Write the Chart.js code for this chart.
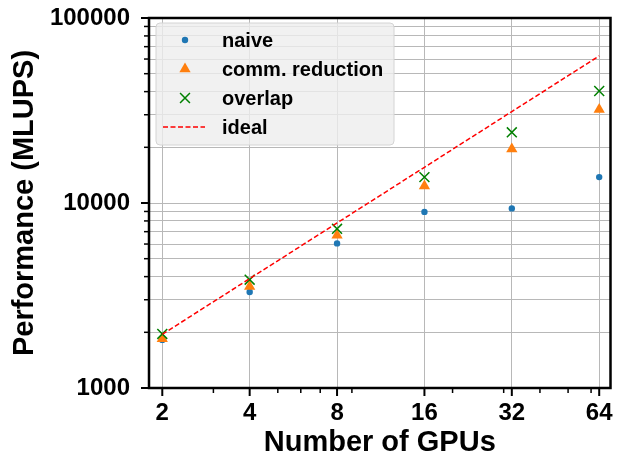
<!DOCTYPE html>
<html lang="en">
<head>
<meta charset="UTF-8">
<title>Performance vs Number of GPUs</title>
<script src="https://cdn.jsdelivr.net/npm/chart.js"></script>
<style>
  html, body { margin: 0; padding: 0; background: #fff; }
</style>
</head>
<body>
<canvas id="perfChart" width="619" height="455"></canvas>
<script>
// data (MLUPS)
const gpus = [2, 4, 8, 16, 32, 64];
const naive = [1820, 3300, 6050, 8950, 9350, 13800];
const commReduction = [1846, 3540, 6700, 12370, 19600, 32000];
const overlap = [1960, 3850, 7250, 13800, 24100, 40300];
const ideal = [1950, 3900, 7800, 15600, 31200, 62400];

const xMinorTicks = [3, 5, 6, 7, 9, 20, 30, 40, 50, 60];
const yMajorTicks = [1000, 10000, 100000];
const yMinorTicks = [2000, 3000, 4000, 5000, 6000, 7000, 8000, 9000,
                     20000, 30000, 40000, 50000, 60000, 70000, 80000, 90000];

const FONT = "'Liberation Sans', Arial, sans-serif";
const GRID = '#b8b8b8';

function pts(ys) {
    return gpus.map((g, i) => ({ x: g, y: ys[i] }));
}

// frame, tick marks and legend, matplotlib style
const decor = {
    id: 'decor',
    afterDraw(chart) {
        const { ctx, chartArea: a, scales: { x, y } } = chart;
        ctx.save();
        ctx.strokeStyle = '#000';

        // tick marks
        const tick = (x1, y1, x2, y2, w) => {
            ctx.lineWidth = w;
            ctx.beginPath();
            ctx.moveTo(x1, y1);
            ctx.lineTo(x2, y2);
            ctx.stroke();
        };
        gpus.forEach(v => { const p = x.getPixelForValue(v); tick(p, a.bottom, p, a.bottom + 8, 2); });
        xMinorTicks.forEach(v => { const p = x.getPixelForValue(v); tick(p, a.bottom, p, a.bottom + 5, 1.5); });
        yMajorTicks.forEach(v => { const p = y.getPixelForValue(v); tick(a.left - 8, p, a.left, p, 2); });
        yMinorTicks.forEach(v => { const p = y.getPixelForValue(v); tick(a.left - 5, p, a.left, p, 1.5); });

        // frame
        ctx.lineWidth = 2.5;
        ctx.strokeRect(a.left, a.top, a.right - a.left, a.bottom - a.top);

        // legend
        const lx = a.left + 7, ly = a.top + 5, lw = 238, lh = 122;
        ctx.beginPath();
        ctx.roundRect(lx, ly, lw, lh, 4);
        ctx.fillStyle = 'rgba(238,238,238,0.8)';
        ctx.fill();
        ctx.lineWidth = 1;
        ctx.strokeStyle = '#d4d4d4';
        ctx.stroke();

        ctx.font = 'bold 20px ' + FONT;
        ctx.textBaseline = 'middle';
        ctx.textAlign = 'left';
        chart.data.datasets.forEach((ds, i) => {
            const ry = ly + 17 + i * 29;
            const mx = lx + 29;
            if (ds.type === 'line') {
                ctx.strokeStyle = ds.borderColor;
                ctx.lineWidth = ds.borderWidth;
                ctx.setLineDash(ds.borderDash);
                ctx.beginPath();
                ctx.moveTo(mx - 22, ry);
                ctx.lineTo(mx + 20, ry);
                ctx.stroke();
                ctx.setLineDash([]);
            } else {
                ctx.fillStyle = ds.backgroundColor;
                ctx.strokeStyle = ds.borderColor;
                ctx.lineWidth = ds.borderWidth;
                Chart.helpers.drawPoint(ctx, {
                    pointStyle: ds.pointStyle,
                    radius: ds.pointRadius,
                    borderWidth: ds.borderWidth
                }, mx, ry);
            }
            ctx.fillStyle = '#000';
            ctx.fillText(ds.label, lx + 66, ry + 1);
        });
        ctx.restore();
    }
};

const ctx = document.getElementById('perfChart').getContext('2d');
new Chart(ctx, {
    type: 'scatter',
    data: {
        datasets: [
            {
                label: 'naive',
                data: pts(naive),
                pointStyle: 'circle',
                pointRadius: 3.2,
                backgroundColor: '#1f77b4',
                borderColor: '#1f77b4',
                borderWidth: 0,
                order: 3
            },
            {
                label: 'comm. reduction',
                data: pts(commReduction),
                pointStyle: 'triangle',
                pointRadius: 6.5,
                backgroundColor: '#ff7f0e',
                borderColor: '#ff7f0e',
                borderWidth: 0,
                order: 2
            },
            {
                label: 'overlap',
                data: pts(overlap),
                pointStyle: 'crossRot',
                pointRadius: 7,
                backgroundColor: 'green',
                borderColor: 'green',
                borderWidth: 1.5,
                order: 1
            },
            {
                label: 'ideal',
                type: 'line',
                data: pts(ideal),
                borderColor: 'red',
                borderWidth: 1.5,
                borderDash: [5, 2.5],
                pointRadius: 0,
                fill: false,
                order: 0
            }
        ]
    },
    options: {
        responsive: false,
        animation: false,
        devicePixelRatio: 1,
        layout: { padding: { top: 18, right: 5, left: 0, bottom: 0 } },
        plugins: {
            legend: { display: false },
            tooltip: { enabled: false }
        },
        scales: {
            x: {
                type: 'logarithmic',
                min: 1.8,
                max: 70,
                afterBuildTicks: s => { s.ticks = gpus.map(v => ({ value: v })); },
                afterFit: s => { s.height = 67; s.paddingLeft = 0; s.paddingRight = 0; },
                ticks: {
                    callback: v => String(v),
                    autoSkip: false,
                    maxRotation: 0,
                    padding: 11,
                    color: '#000',
                    font: { family: FONT, size: 24, weight: 'bold' }
                },
                grid: { color: GRID, lineWidth: 1, drawTicks: false },
                border: { display: false },
                title: {
                    display: true,
                    text: 'Number of GPUs',
                    color: '#000',
                    padding: { top: 0, bottom: 0 },
                    font: { family: FONT, size: 29, weight: 'bold', lineHeight: 0.82 }
                }
            },
            y: {
                type: 'logarithmic',
                min: 1000,
                max: 100000,
                afterBuildTicks: s => {
                    s.ticks = yMajorTicks.concat(yMinorTicks).sort((p, q) => p - q).map(v => ({ value: v }));
                },
                afterFit: s => { s.width = 149; s.paddingTop = 0; s.paddingBottom = 0; },
                ticks: {
                    callback: v => yMajorTicks.includes(v) ? String(v) : '',
                    autoSkip: false,
                    padding: 19,
                    color: '#000',
                    font: { family: FONT, size: 24, weight: 'bold' }
                },
                grid: { color: GRID, lineWidth: 1, drawTicks: false },
                border: { display: false },
                title: {
                    display: true,
                    text: 'Performance (MLUPS)',
                    color: '#000',
                    padding: { top: 8, bottom: 0 },
                    font: { family: FONT, size: 29, weight: 'bold' }
                }
            }
        }
    },
    plugins: [decor]
});
</script>
</body>
</html>
